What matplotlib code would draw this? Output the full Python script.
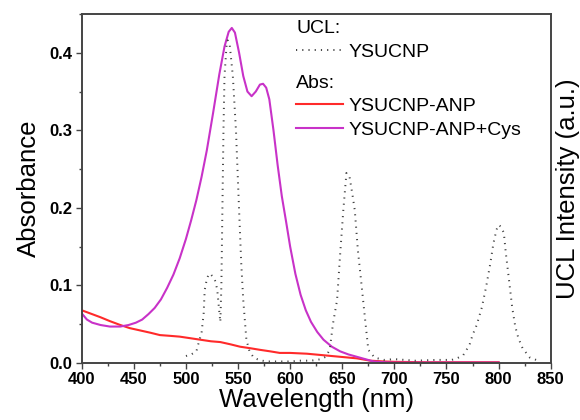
import matplotlib
matplotlib.use("Agg")
import matplotlib.pyplot as plt
from matplotlib.ticker import MultipleLocator

plt.rcParams['font.family'] = ['Liberation Sans', 'DejaVu Sans']

# absorbance, YSUCNP-ANP+Cys
cys_wl = [400, 405, 410, 418, 427, 437, 445, 452, 458, 464, 470, 476, 482, 488,
          494, 500, 505, 510, 515, 520, 526, 532, 537, 541, 544, 547, 551, 555,
          559, 563, 567, 571, 574, 577, 580, 584, 588, 592, 596, 600, 605, 610,
          615, 620, 626, 632, 640, 648, 656, 664, 672, 680, 690, 700, 750, 800]
cys_abs = [0.064, 0.056, 0.052, 0.049, 0.047, 0.047, 0.049, 0.052, 0.056, 0.063,
           0.071, 0.082, 0.097, 0.114, 0.135, 0.160, 0.184, 0.210, 0.240, 0.274,
           0.322, 0.372, 0.408, 0.427, 0.432, 0.426, 0.400, 0.370, 0.350, 0.344,
           0.350, 0.359, 0.360, 0.355, 0.340, 0.300, 0.255, 0.215, 0.183, 0.150,
           0.115, 0.088, 0.068, 0.053, 0.040, 0.030, 0.021, 0.015, 0.011, 0.008,
           0.005, 0.002, 0.001, 0.0005, 0.0005, 0.0005]

# absorbance, YSUCNP-ANP
anp_wl = [400, 408, 418, 427, 437, 446, 456, 466, 475, 485, 494, 504, 514, 524,
          533, 543, 552, 562, 571, 581, 590, 600, 616, 632, 648, 664, 677, 690,
          700, 730, 760, 800]
anp_abs = [0.068, 0.064, 0.059, 0.054, 0.049, 0.045, 0.042, 0.039, 0.036, 0.035,
           0.034, 0.032, 0.030, 0.028, 0.027, 0.024, 0.021, 0.019, 0.017, 0.015,
           0.013, 0.013, 0.012, 0.010, 0.008, 0.006, 0.003, 0.002, 0.0015, 0.001,
           0.001, 0.001]

# UCL emission, YSUCNP (a.u.)
ucl_wl = [500, 505, 510, 513, 515, 517, 518, 520, 522, 524, 526, 528, 530, 532,
          533, 534, 535, 536, 537, 539, 540, 542, 545, 548, 551, 553, 555, 558,
          561, 565, 570, 577, 590, 600, 610, 620, 630, 634, 638, 641, 645, 648,
          651, 654, 657, 660, 662, 665, 668, 672, 675, 681, 690, 700, 720, 740,
          755, 760, 766, 772, 775, 779, 784, 788, 792, 795, 798, 800, 802, 805,
          807, 810, 813, 816, 819, 823, 830, 840]
ucl_int = [0.009, 0.011, 0.015, 0.030, 0.039, 0.064, 0.094, 0.108, 0.115, 0.114,
           0.111, 0.106, 0.095, 0.066, 0.053, 0.100, 0.200, 0.300, 0.370, 0.410,
           0.416, 0.410, 0.370, 0.300, 0.197, 0.130, 0.081, 0.030, 0.015, 0.007,
           0.004, 0.002, 0.002, 0.002, 0.003, 0.003, 0.005, 0.008, 0.017, 0.050,
           0.081, 0.141, 0.197, 0.245, 0.240, 0.215, 0.197, 0.145, 0.107, 0.055,
           0.017, 0.007, 0.004, 0.005, 0.003, 0.004, 0.004, 0.006, 0.010, 0.023,
           0.036, 0.049, 0.072, 0.098, 0.128, 0.154, 0.172, 0.178, 0.176, 0.168,
           0.141, 0.107, 0.072, 0.047, 0.032, 0.019, 0.007, 0.002]

red = '#ff2a2a'
magenta = '#c832c8'
dots = '#444444'

fig = plt.figure(figsize=(5.8, 4.2), dpi=100)
ax = fig.add_axes([0.1409, 0.1357, 0.8086, 0.831])
ax2 = ax.twinx()

l_anp, = ax.plot(anp_wl, anp_abs, color=red, lw=1.5)
l_cys, = ax.plot(cys_wl, cys_abs, color=magenta, lw=1.5)
l_ucl, = ax2.plot(ucl_wl, ucl_int, color=dots, lw=1.4, linestyle=(0, (0.6, 2.6)))

ax.set_xlim(400, 850)
ax.set_ylim(0, 0.45)
ax2.set_ylim(0, 0.45)
ax.xaxis.set_major_locator(MultipleLocator(50))
ax.xaxis.set_minor_locator(MultipleLocator(25))
ax.yaxis.set_major_locator(MultipleLocator(0.1))
ax.yaxis.set_minor_locator(MultipleLocator(0.05))
ax.tick_params(which='both', direction='out', color='#444444', width=1,
               top=False, right=False)
ax.tick_params(which='major', length=4.5, labelsize=12, pad=2)
ax.tick_params(which='minor', length=2.5)
for lab in ax.get_xticklabels() + ax.get_yticklabels():
    lab.set_fontweight('bold')
ax.yaxis.set_major_formatter(plt.FuncFormatter(lambda v, p: f"{v:.1f}"))
ax2.set_yticks([])

for a in (ax, ax2):
    for sp in a.spines.values():
        sp.set_color('#444444')
        sp.set_linewidth(1.2)

ax.set_xlabel("Wavelength (nm)", fontsize=18.5, labelpad=1)
ax.set_ylabel("Absorbance", fontsize=18.5, labelpad=6)
ax2.set_ylabel("UCL Intensity (a.u.)", fontsize=18.5, labelpad=4)

leg_kw = dict(frameon=False, fontsize=14, title_fontsize=14, handlelength=2.4,
              handletextpad=0.3, borderpad=0, borderaxespad=0, labelspacing=0.3,
              alignment='left', loc='upper left')
leg1 = ax2.legend([l_ucl], ["YSUCNP"], title="UCL:",
                  bbox_to_anchor=(0.457, 0.982), **leg_kw)
ax2.add_artist(leg1)
ax2.legend([l_anp, l_cys], ["YSUCNP-ANP", "YSUCNP-ANP+Cys"], title="Abs:",
           bbox_to_anchor=(0.457, 0.826), **leg_kw)

fig.savefig("out.png", dpi=100)
